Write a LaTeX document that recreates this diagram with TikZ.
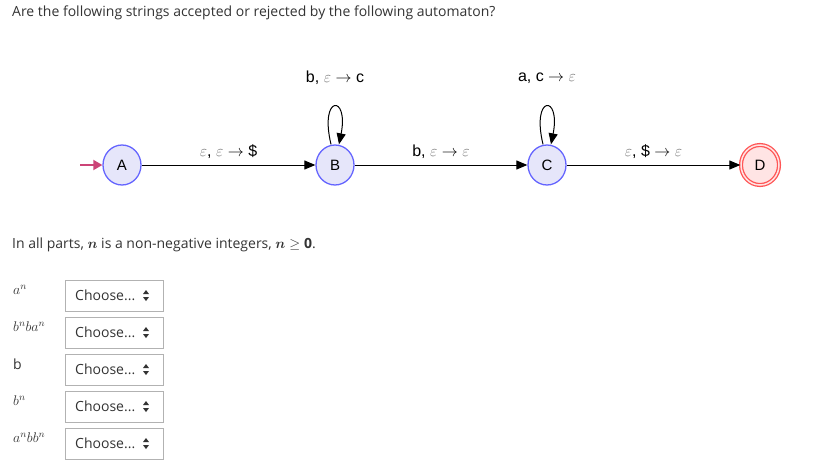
\documentclass[tikz,border=0pt]{standalone}
\usepackage{fix-cm}
\usepackage{amsmath,amssymb,bm}
\usepackage{fontspec}
\setmainfont{Open Sans}
\newfontfamily\arial{Liberation Sans}
\usetikzlibrary{arrows.meta,shapes.geometric}
\definecolor{stfill}{HTML}{E6E6FA}
\definecolor{stline}{HTML}{6464FF}
\definecolor{acfill}{HTML}{FFE4E4}
\definecolor{acline}{HTML}{FF5555}
\definecolor{initc}{HTML}{CC4477}
\definecolor{txt}{HTML}{333333}
\definecolor{epsc}{HTML}{777777}
\newcommand{\eps}{{\color{epsc}$\varepsilon$}}
\begin{document}
\begin{tikzpicture}[x=1pt,y=-1pt,
  state/.style={ellipse,draw=stline,line width=1.3pt,fill=stfill,minimum width=38pt,minimum height=40pt,inner sep=0pt,font=\arial\fontsize{15}{17}\selectfont},
  accept/.style={state,draw=acline,fill=acfill,double=acfill,double distance=1.5pt},
  edge/.style={-{Triangle[length=11pt,width=9pt]},line width=1pt},
  elab/.style={font=\arial\fontsize{16}{18}\selectfont},
  body/.style={font=\fontsize{14}{17}\selectfont,text=txt,anchor=west,inner sep=0pt},
  choice/.style={draw=black!30,minimum width=98pt,minimum height=31pt,anchor=north west,inner sep=0pt}]
\useasboundingbox (0,0) rectangle (822,469);
\node[body] (title) at (12,13) {Are the following strings accepted or rejected by the following automaton?};
\node[state] (A) at (122,165) {A};
\node[state] (B) at (335,165) {B};
\node[state] (C) at (547,165) {C};
\node[accept] (D) at (760,165) {D};
\coordinate (init) at (80,165);
\draw[-{Triangle[length=9pt,width=10pt]},initc,line width=1.8pt] (init) -- (A);
\draw[edge] (A) -- node[elab,above=3pt] {\eps, \eps\ $\rightarrow$ \$} (B);
\draw[edge] (B) -- node[elab,above=3pt] {b, \eps\ $\rightarrow$ \eps} (C);
\draw[edge] (C) -- node[elab,above=3pt] {\eps, \$ $\rightarrow$ \eps} (D);
\draw[edge] (B.north) ++(-4,0) .. controls +(-12,-50) and +(10,-50) .. ([xshift=4pt]B.north);
\node[elab] (lb) at (335,78) {b, \eps\ $\rightarrow$ c};
\draw[edge] (C.north) ++(-4,0) .. controls +(-12,-50) and +(10,-50) .. ([xshift=4pt]C.north);
\node[elab] (lc) at (547,78) {a, c $\rightarrow$ \eps};
\node[body] (parts) at (12,245) {In all parts, $\bm{n}$ is a non-negative integers, $\bm{n}\geq \mathbf{0}$.};
\foreach \i/\lab [count=\k] in {280/{$a^n$},317/{$b^nba^n$},354/{b},391/{$b^n$},428/{$a^nbb^n$}}{
  \node[body,anchor=north west] (l\k) at (13,\i+5) {\lab};
  \node[choice] (c\k) at (65,\i) {};
  \node[body] (t\k) at (75,\i+15.5) {Choose...};
  \fill[txt] (143,\i+14) -- (149,\i+14) -- (146,\i+10) -- cycle;
  \fill[txt] (143,\i+17) -- (149,\i+17) -- (146,\i+21) -- cycle;
}
\end{tikzpicture}
\end{document}
